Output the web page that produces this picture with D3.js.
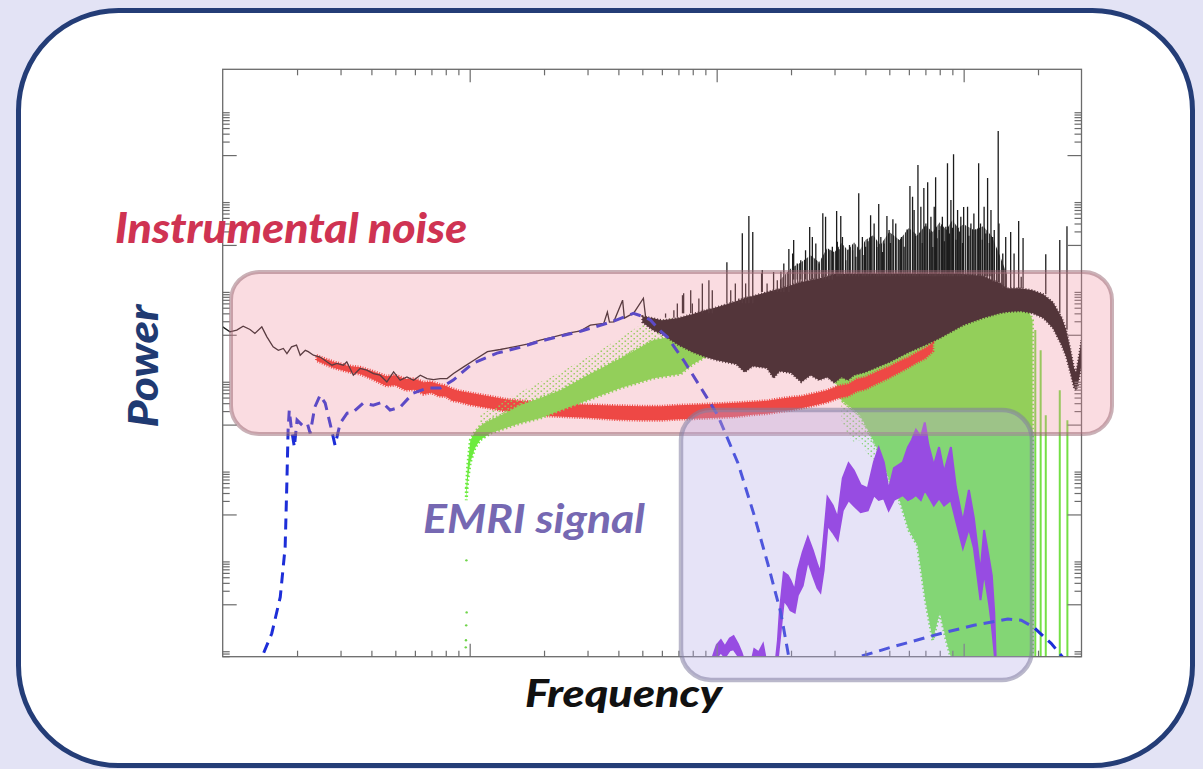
<!DOCTYPE html>
<html>
<head>
<meta charset="utf-8" />
<title>Power spectrum: instrumental noise and EMRI signal</title>
<script src="https://d3js.org/d3.v7.min.js"></script>
<style>
  body { margin: 0; background: #e3e3f5; }
  svg { display: block; }
  .lbl { font-family: Lato, "Open Sans", sans-serif; font-style: italic; font-weight: 700; }
  .heavy { font-weight: 900; }
</style>
</head>
<body>
<script>

// ---- data (frequency in Hz, power in arbitrary units) ----

// black: measured data, smooth part at low frequency [f, P]
var blackLow = [[1.0e-5,1.5e-34],[1.07e-5,1.16e-34],[1.14e-5,1.27e-34],[1.21e-5,1.55e-34],[1.29e-5,1.31e-34],
  [1.35e-5,1.07e-34],[1.44e-5,1.5e-34],[1.51e-5,9.0e-35],[1.60e-5,5.4e-35],[1.68e-5,4.5e-35],[1.76e-5,4.95e-35],
  [1.82e-5,3.8e-35],[1.90e-5,5.4e-35],[1.99e-5,5.9e-35],[2.06e-5,3.5e-35],[2.16e-5,4.5e-35],[2.22e-5,4.2e-35],
  [2.33e-5,3.5e-35],[2.48e-5,3.2e-35],[2.64e-5,2.5e-35],[2.77e-5,2.1e-35],[2.90e-5,2.3e-35],[3.08e-5,2.1e-35],
  [3.18e-5,2.5e-35],[3.38e-5,1.26e-35],[3.60e-5,1.78e-35],[3.83e-5,1.63e-35],[4.08e-5,1.37e-35],[4.34e-5,1.26e-35],
  [4.62e-5,8.9e-36],[4.92e-5,1.49e-35],[5.23e-5,9.7e-36],[5.57e-5,1.15e-35],[5.93e-5,9.7e-36],[6.31e-5,1.26e-35],
  [6.72e-5,1.06e-35],[7.14e-5,1.0e-35],[7.6e-5,1.06e-35],[8.1e-5,1.06e-35],[8.6e-5,1.37e-35],[9.45e-5,1.93e-35],
  [1.04e-4,2.7e-35],[1.18e-4,4.2e-35],[1.33e-4,4.7e-35],[1.51e-4,5.4e-35],[1.71e-4,6.2e-35],[1.93e-4,7.6e-35],
  [2.19e-4,9.0e-35],[2.48e-4,1.07e-34],[2.81e-4,1.22e-34],[3.08e-4,1.64e-34],[3.49e-4,1.78e-34],[3.61e-4,3.2e-34],
  [3.68e-4,1.91e-34],[3.83e-4,1.94e-34],[4.16e-4,5.9e-34],[4.23e-4,2.34e-34],[4.62e-4,3.07e-34],[5.05e-4,6.5e-34],
  [5.15e-4,2.6e-34],[5.57e-4,1.78e-34]];

// black: dense noisy part, lower and upper envelope [f, low, high]
var blackBand = [[5.0e-4,1.9e-34,2.6e-34],[5.5e-4,1.27e-34,2.35e-34],[6.0e-4,1.03e-34,2.1e-34],[7.0e-4,5.9e-35,2.35e-34],
  [8.0e-4,4.1e-35,2.9e-34],[9.0e-4,3.2e-35,3.5e-34],[1.0e-3,2.7e-35,4.1e-34],[1.2e-3,2.2e-35,5.6e-34],
  [1.3e-3,1.47e-35,6.6e-34],[1.4e-3,2.0e-35,7.25e-34],[1.6e-3,1.8e-35,8.9e-34],[1.7e-3,1.08e-35,9.8e-34],
  [1.8e-3,1.55e-35,1.04e-33],[2.0e-3,1.4e-35,1.27e-33],[2.2e-3,8.8e-36,1.5e-33],[2.4e-3,1.26e-35,1.64e-33],
  [2.6e-3,9.7e-36,1.82e-33],[2.8e-3,1.14e-35,2.0e-33],[3.0e-3,8.4e-36,2.24e-33],[3.2e-3,1.14e-35,2.24e-33],
  [3.4e-3,9.7e-36,2.24e-33],[3.6e-3,1.26e-35,2.24e-33],[4.0e-3,1.47e-35,2.24e-33],[5.0e-3,2.45e-35,2.24e-33],
  [6.0e-3,4.1e-35,2.24e-33],[7.0e-3,5.9e-35,2.24e-33],[8.0e-3,8.4e-35,2.24e-33],[9.0e-3,1.2e-34,2.24e-33],
  [1.0e-2,1.64e-34,2.24e-33],[1.2e-2,2.35e-34,2.0e-33],[1.4e-2,3.0e-34,1.41e-33],[1.5e-2,3.2e-34,1.09e-33],
  [1.7e-2,3.35e-34,1.09e-33],[1.9e-2,3.0e-34,9.8e-34],[2.1e-2,2.35e-34,8.0e-34],[2.3e-2,1.4e-34,5.3e-34],
  [2.5e-2,5.6e-35,2.35e-34],[2.6e-2,3.2e-35,1.27e-34],[2.7e-2,1.47e-35,5.0e-35],[2.8e-2,6.5e-36,1.8e-35],
  [2.85e-2,5.8e-36,1.47e-35],[2.9e-2,7.55e-36,2.45e-35],[3.0e-2,2.1e-35,7.6e-35]];

// black: densest part of the spikes just above the band [f, low, high]
var blackCloud = [[1.8e-3,1.04e-33,1.64e-33],[2.0e-3,1.27e-33,3.04e-33],[2.2e-3,1.48e-33,4.1e-33],[2.4e-3,1.64e-33,5.9e-33],
  [2.6e-3,1.82e-33,4.1e-33],[2.8e-3,2.0e-33,8.5e-33],[3.0e-3,2.24e-33,6.9e-33],[3.2e-3,2.24e-33,1.1e-32],
  [3.4e-3,2.24e-33,7.6e-33],[3.6e-3,2.24e-33,1.15e-32],[3.8e-3,2.24e-33,7.6e-33],[4.0e-3,2.24e-33,1.28e-32],
  [4.3e-3,2.24e-33,1.65e-32],[4.6e-3,2.24e-33,1.0e-32],[5.0e-3,2.24e-33,1.93e-32],[5.5e-3,2.24e-33,1.28e-32],
  [6.0e-3,2.24e-33,2.37e-32],[6.5e-3,2.24e-33,1.65e-32],[7.0e-3,2.24e-33,2.76e-32],[7.5e-3,2.24e-33,1.93e-32],
  [8.0e-3,2.24e-33,3.2e-32],[8.5e-3,2.24e-33,2.14e-32],[9.0e-3,2.24e-33,3.57e-32],[9.5e-3,2.24e-33,2.37e-32],
  [1.0e-2,2.24e-33,2.9e-32],[1.1e-2,2.0e-33,2.14e-32],[1.2e-2,1.9e-33,2.62e-32],[1.3e-2,1.41e-33,1.57e-32],
  [1.4e-2,1.3e-33,5.9e-33],[1.5e-2,1.09e-33,2.13e-33]];

// black: spikes above the band [f, low, high]
var spikes = [[6.21e-4,2.4e-34,2.98e-34],[6.71e-4,2.4e-34,3.5e-34],[6.93e-4,2.4e-34,4.98e-34],[7.27e-4,3e-34,7.6e-34],
  [7.35e-4,3e-34,8.4e-34],[7.85e-4,3e-34,9.8e-34],[7.97e-4,3e-34,4.98e-34],[8.47e-4,3e-34,6.4e-34],
  [8.75e-4,3e-34,1.39e-33],[9.3e-4,3e-34,1.64e-33],[9.6e-4,3e-34,9.8e-34],[1.1e-3,5e-34,4.1e-33],
  [1.14e-3,5e-34,9.8e-34],[1.19e-3,5e-34,1.39e-33],[1.23e-3,5e-34,6.4e-34],[1.27e-3,5e-34,1.83e-32],
  [1.31e-3,5e-34,1.39e-33],[1.35e-3,5e-34,4.4e-32],[1.4e-3,5e-34,1.93e-32],[1.52e-3,9e-34,2.35e-33],
  [1.53e-3,9e-34,2.75e-33],[1.6e-3,9e-34,1.39e-33],[1.7e-3,9e-34,2.5e-33],[1.76e-3,9e-34,1.64e-33],
  [1.82e-3,9e-34,2.52e-33],[1.87e-3,9e-34,3.87e-33],[1.96e-3,9e-34,8.1e-33],[2.03e-3,1.7e-33,6.46e-33],
  [2.05e-3,1.7e-33,1.28e-32],[2.12e-3,1.7e-33,3.87e-33],[2.19e-3,1.7e-33,4.58e-33],[2.29e-3,1.7e-33,7.65e-33],
  [2.38e-3,1.7e-33,2.5e-32],[2.44e-3,1.7e-33,1.51e-32],[2.52e-3,1.7e-33,1.08e-32],[2.6e-3,1.7e-33,3.87e-33],
  [2.69e-3,1.7e-33,5.1e-32],[2.76e-3,1.7e-33,4.22e-32],[2.85e-3,1.7e-33,7.65e-33],[2.94e-3,1.7e-33,9.1e-33],
  [3.06e-3,2e-33,5.7e-32],[3.08e-3,2e-33,1.17e-32],[3.13e-3,2e-33,8e-33],[3.18e-3,2e-33,4.4e-32],
  [3.23e-3,2e-33,1.51e-32],[3.33e-3,2e-33,4.58e-33],[3.45e-3,2e-33,1.0e-32],[3.55e-3,2e-33,7.65e-33],
  [3.66e-3,2e-33,5.43e-33],[3.76e-3,2e-33,1.42e-31],[3.89e-3,2e-33,1.51e-32],[3.95e-3,2e-33,6e-33],
  [4.01e-3,2e-33,9.1e-33],[4.1e-3,2e-33,1.2e-32],[4.2e-3,2e-33,4.6e-32],[4.34e-3,2e-33,3.0e-32],
  [4.45e-3,2e-33,9e-33],[4.53e-3,2e-33,8.1e-32],[4.62e-3,2e-33,1.51e-32],[4.7e-3,2e-33,7e-33],
  [4.76e-3,2e-33,1.08e-32],[4.89e-3,2e-33,4.4e-32],[4.99e-3,2e-33,2.14e-32],[5.05e-3,2e-33,1.1e-32],
  [5.17e-3,2e-33,3.75e-32],[5.31e-3,2e-33,3.0e-32],[5.48e-3,2e-33,1.28e-32],[5.6e-3,2e-33,1.5e-32],
  [5.74e-3,2e-33,9.1e-33],[5.9e-3,2e-33,2.2e-32],[6.06e-3,2e-33,2.04e-31],[6.21e-3,2e-33,1.18e-31],
  [6.3e-3,2e-33,5.96e-32],[6.4e-3,2e-33,1.6e-32],[6.53e-3,2e-33,6.0e-31],[6.71e-3,2e-33,7.06e-32],
  [6.8e-3,2e-33,1.1e-32],[6.9e-3,2e-33,1.84e-31],[7.03e-3,2e-33,3.0e-32],[7.15e-3,2e-33,2.5e-31],
  [7.3e-3,2e-33,1.9e-32],[7.37e-3,2e-33,4.22e-32],[7.5e-3,2e-33,9e-33],[7.6e-3,2e-33,7.06e-32],
  [7.7e-3,2e-33,3.2e-31],[7.8e-3,2e-33,1.4e-32],[7.96e-3,2e-33,2.14e-32],[8.1e-3,2e-33,2.6e-32],
  [8.2e-3,2e-33,4.22e-32],[8.35e-3,2e-33,1.2e-32],[8.47e-3,2e-33,2.53e-32],[8.6e-3,2e-33,6.6e-31],
  [8.75e-3,2e-33,1.8e-32],[8.88e-3,2e-33,9.95e-32],[9.0e-3,2e-33,2.4e-32],[9.1e-3,2e-33,1.05e-30],
  [9.3e-3,2e-33,1.3e-32],[9.45e-3,2e-33,5.96e-32],[9.6e-3,2e-33,2.0e-32],[9.74e-3,2e-33,4.22e-32],
  [9.9e-3,2e-33,1.1e-32],[1.0e-2,2e-33,7.0e-32],[1.037e-2,2e-33,7.06e-32],[1.05e-2,2e-33,1.6e-32],
  [1.07e-2,2e-33,3.0e-32],[1.10e-2,2e-33,5.03e-32],[1.12e-2,2e-33,2.2e-32],[1.15e-2,2e-33,6.6e-31],
  [1.17e-2,2e-33,3.0e-32],[1.19e-2,2e-33,1.3e-32],[1.21e-2,2e-33,7.06e-32],[1.23e-2,2e-33,1.8e-32],
  [1.25e-2,2e-33,3.1e-31],[1.27e-2,2e-33,1.1e-32],[1.29e-2,2e-33,5.96e-32],[1.31e-2,1.5e-33,1.5e-32],
  [1.33e-2,1.5e-33,2.14e-32],[1.38e-2,1.5e-33,3.43e-30],[1.39e-2,1.5e-33,3.0e-32],[1.44e-2,1.1e-33,6.46e-33],
  [1.48e-2,1.1e-33,1.51e-32],[1.55e-2,1.1e-33,1.93e-32],[1.6e-2,1.1e-33,6.46e-33],[1.67e-2,1.1e-33,3.4e-32],
  [1.71e-2,1.1e-33,1.95e-33],[1.74e-2,1.1e-33,1.42e-32],[2.15e-2,8e-34,6.2e-33],[2.45e-2,3e-34,1.28e-32],
  [2.62e-2,1.3e-34,2.6e-32]];

// red: instrumental noise [f, low, high]
var noise = [[2.4e-5,2.65e-35,3.43e-35],[2.8e-5,1.85e-35,2.52e-35],[3.2e-5,1.51e-35,2.05e-35],[3.6e-5,1.33e-35,1.9e-35],
  [4.0e-5,1.05e-35,1.59e-35],[4.6e-5,7.2e-36,1.2e-35],[5.0e-5,7.55e-36,1.26e-35],[5.5e-5,5.8e-36,1.03e-35],
  [6.0e-5,6.0e-36,1.05e-35],[6.5e-5,4.75e-36,8.8e-36],[7.0e-5,5.1e-36,9.0e-36],[7.5e-5,4.3e-36,7.95e-36],
  [8.0e-5,4.2e-36,7.35e-36],[8.5e-5,3.4e-36,6.3e-36],[9.0e-5,3.23e-36,5.7e-36],[1.0e-4,2.77e-36,5.1e-36],
  [1.2e-4,2.32e-36,4.3e-36],[1.4e-4,1.99e-36,3.68e-36],[1.6e-4,1.75e-36,3.4e-36],[2.0e-4,1.58e-36,3.07e-36],
  [2.4e-4,1.5e-36,2.92e-36],[3.0e-4,1.42e-36,2.77e-36],[4.0e-4,1.29e-36,2.63e-36],[5.0e-4,1.25e-36,2.57e-36],
  [6.0e-4,1.25e-36,2.57e-36],[7.0e-4,1.32e-36,2.7e-36],[8.0e-4,1.35e-36,2.77e-36],[1.0e-3,1.42e-36,2.92e-36],
  [1.2e-3,1.5e-36,3.07e-36],[1.4e-3,1.66e-36,3.23e-36],[1.6e-3,1.75e-36,3.4e-36],[1.8e-3,1.94e-36,3.78e-36],
  [2.0e-3,2.09e-36,4.08e-36],[2.2e-3,2.32e-36,4.3e-36],[2.5e-3,2.7e-36,5.0e-36],[2.8e-3,3.15e-36,5.8e-36],
  [3.1e-3,3.87e-36,7.2e-36],[3.4e-3,4.3e-36,7.95e-36],[3.7e-3,5.55e-36,1.03e-35],[4.0e-3,6.15e-36,1.14e-35],
  [4.5e-3,8.4e-36,1.55e-35],[5.0e-3,1.11e-35,1.95e-35],[5.5e-3,1.47e-35,2.58e-35],[6.0e-3,1.9e-35,3.17e-35],
  [6.5e-3,2.45e-35,4.1e-35],[7.0e-3,3.01e-35,5.03e-35],[7.5e-3,4.3e-35,6.5e-35]];

// green: galactic foreground, rising part [f, low, high]
var greenLow = [[9.69e-5,2.07e-38,3.8e-38],[9.82e-5,5.8e-38,1.25e-37],[1.006e-4,1.45e-37,4.5e-37],[1.05e-4,2.98e-37,6.8e-37],
  [1.1e-4,4.5e-37,9.2e-37],[1.21e-4,6.4e-37,1.25e-36],[1.39e-4,8.3e-37,1.79e-36],[1.6e-4,1.07e-36,2.7e-36],
  [1.93e-4,1.39e-36,3.9e-36],[2.33e-4,2.1e-36,5.8e-36],[3.0e-4,3.5e-36,1.26e-35],[4.08e-4,6.5e-36,3.0e-35],
  [5.55e-4,1.08e-35,7.6e-35],[7.14e-4,1.33e-35,9.8e-35],[8e-4,2.2e-35,1.2e-34],[9e-4,3.2e-35,1.3e-34]];
// sparse green points above the rising part [f, low, high]
var greenHalo = [[1.1e-4,9.2e-37,1.62e-36],[1.6e-4,2.7e-36,5.3e-36],[2.33e-4,5.8e-36,1.47e-35],
  [3.38e-4,1.6e-35,4.5e-35],[4.92e-4,5.0e-35,1.64e-34],[6.5e-4,9.0e-35,2.35e-34]];
// isolated green points at the start [f, P]
var greenDots = [[9.7e-5,9.5e-40],[9.72e-5,6.6e-41],[9.68e-5,3.4e-41],[9.66e-5,1.58e-41],[9.64e-5,1.1e-41]];
// green: high frequency part reaching the bottom [f, low, high]
var greenHigh = [[3e-3,1.08e-35,1.27e-34],[3.2e-3,3.5e-36,1.64e-34],[3.4e-3,2.7e-36,2.1e-34],[3.6e-3,2.1e-36,2.35e-34],
  [3.8e-3,1.62e-36,2.6e-34],[4e-3,9.7e-37,2.9e-34],[4.3e-3,4.5e-37,3.2e-34],[4.6e-3,2.08e-37,3.5e-34],
  [5e-3,5.8e-38,3.9e-34],[5.5e-3,2.1e-38,4.4e-34],[6e-3,4.45e-39,4.9e-34],[6.5e-3,2.06e-39,5.9e-34],
  [7e-3,1.23e-40,6.5e-34],[7.5e-3,1.58e-41,7.25e-34],[8e-3,6.6e-41,7.6e-34],[8.5e-3,1.58e-41,8.0e-34],
  [9e-3,5e-42,8.5e-34],[1e-2,5e-42,8.9e-34],[1.6e-2,5e-42,5.9e-34],[1.8e-2,5e-42,4.4e-34],[1.9e-2,5e-42,2.1e-34]];
// sparse green points below the dense high frequency part [f, low, high]
var greenSparse = [[3.2e-3,1.25e-36,3.5e-36],[3.4e-3,5.8e-37,2.7e-36],[3.6e-3,4.1e-37,2.1e-36],[3.8e-3,4.5e-37,1.62e-36],
  [4e-3,2.7e-37,9.7e-37],[4.3e-3,1.45e-37,4.5e-37],[4.6e-3,9.6e-38,2.08e-37],[5e-3,3.5e-38,5.8e-38],[5.5e-3,1.6e-38,2.1e-38]];
var greenStreaks = [[1.95e-2,5e-42,1.27e-34],[2.05e-2,5e-42,4.5e-35],[2.15e-2,5e-42,1.62e-36],
  [2.45e-2,5e-42,5.8e-36],[2.63e-2,5e-42,1.25e-36]];

// blue dashed: two model curves [f, P]
var blueA = [[1.42e-5,3.4e-42],[1.44e-5,6.6e-42],[1.58e-5,2.24e-41],[1.71e-5,1.44e-40],[1.79e-5,1.86e-39],
  [1.82e-5,5.75e-38],[1.84e-5,7.6e-37],[1.86e-5,2.1e-36],[1.89e-5,9.7e-37],[1.95e-5,3.16e-37],[2.0e-5,1.26e-36],
  [2.1e-5,9.7e-37],[2.2e-5,1.07e-36],[2.26e-5,6.4e-37],[2.36e-5,2.45e-36],[2.48e-5,4.5e-36],[2.6e-5,3.0e-36],
  [2.72e-5,1.07e-36],[2.85e-5,3.5e-37],[2.99e-5,1.07e-36],[3.19e-5,1.79e-36],[3.37e-5,1.88e-36],[3.7e-5,3.0e-36],
  [4.07e-5,2.7e-36],[4.42e-5,3.16e-36],[4.76e-5,2.1e-36],[5.23e-5,2.45e-36],[5.9e-5,5.0e-36],[6.73e-5,6.5e-36],
  [7.6e-5,6.5e-36],[8.58e-5,9.8e-36],[1.03e-4,2.33e-35],[1.29e-4,3.9e-35],[1.6e-4,5.25e-35],[1.93e-4,7.2e-35],
  [2.33e-4,9.3e-35],[2.81e-4,1.2e-34],[3.38e-4,1.62e-34],[3.9e-4,2.1e-34],[4.6e-4,3.0e-34],[5.15e-4,2.45e-34],
  [5.4e-4,2.1e-34],[5.93e-4,1.2e-34],[6.32e-4,8.9e-35],[7.35e-4,2.7e-35],[8.6e-4,6.8e-36],[1.01e-3,1.62e-36],
  [1.22e-3,1.38e-37],[1.41e-3,1.07e-38],[1.61e-3,8.1e-40],[1.82e-3,6.3e-41],[1.96e-3,6.6e-42],[1.99e-3,3.4e-42]];
var blueB = [[3.59e-3,3.4e-42],[3.72e-3,6.6e-42],[5.07e-3,1.1e-41],[8.08e-3,2.24e-41],[1.1e-2,3.4e-41],
  [1.51e-2,4.7e-41],[1.71e-2,4.4e-41],[1.92e-2,3.1e-41],[2.26e-2,1.35e-41],[2.52e-2,6.6e-42],[2.57e-2,3.4e-42]];

// purple: EMRI signal [f, low, high]
var emri = [[9.63e-4,5e-42,6.6e-42],[1.0e-3,6.6e-42,1.23e-41],[1.04e-3,8.5e-42,1.58e-41],[1.08e-3,6.6e-42,1.15e-41],
  [1.13e-3,9.5e-42,1.74e-41],[1.17e-3,1.0e-41,1.95e-41],[1.22e-3,7.2e-42,1.29e-41],[1.26e-3,5e-42,8.5e-42],
  [1.3e-3,4.5e-42,5e-42],[1.38e-3,4.5e-42,5e-42],[1.42e-3,6.6e-42,1.0e-41],[1.48e-3,5e-42,8.5e-42],
  [1.54e-3,7.2e-42,1.29e-41],[1.59e-3,4e-42,5e-42],[1.73e-3,4e-42,4.7e-42],[1.77e-3,6.6e-42,1.58e-41],
  [1.8e-3,1.58e-41,6.6e-41],[1.87e-3,1.23e-40,5.1e-40],[1.94e-3,9.5e-41,4.4e-40],[1.99e-3,7.4e-41,3.4e-40],
  [2.07e-3,6.6e-41,2.04e-40],[2.13e-3,1.58e-40,5.7e-40],[2.23e-3,2.6e-40,1.44e-39],[2.34e-3,9.5e-40,3.1e-39],
  [2.45e-3,4.4e-40,1.58e-39],[2.56e-3,2.3e-40,7.4e-40],[2.63e-3,1.86e-40,5.1e-40],[2.71e-3,5.7e-40,2.7e-39],
  [2.81e-3,5.75e-39,2.4e-38],[2.95e-3,4.0e-39,1.58e-38],[3.09e-3,2.7e-39,8.3e-39],[3.24e-3,1.23e-38,6.4e-38],
  [3.42e-3,2.1e-38,1.38e-37],[3.59e-3,1.58e-38,9.5e-38],[3.83e-3,1.12e-38,4.5e-38],[4.09e-3,1.23e-38,3.8e-38],
  [4.33e-3,2.7e-38,1.45e-37],[4.53e-3,2.1e-38,3.0e-37],[4.75e-3,2.3e-38,1.45e-37],[4.97e-3,1.23e-38,3.5e-38],
  [5.22e-3,2.1e-38,1.07e-37],[5.67e-3,2.7e-38,1.45e-37],[5.95e-3,2.1e-38,3.16e-37],[6.17e-3,2.3e-38,4.5e-37],
  [6.41e-3,2.7e-38,7.6e-37],[6.71e-3,2.1e-38,5.25e-37],[6.96e-3,3.5e-38,1.12e-36],[7.2e-3,2.57e-38,3.5e-37],
  [7.57e-3,1.58e-38,1.23e-37],[7.95e-3,2.3e-38,3.16e-37],[8.33e-3,1.58e-38,8.7e-38],[8.88e-3,2.1e-38,3.16e-37],
  [9.3e-3,7.4e-39,4.07e-38],[9.93e-3,1.78e-39,6.8e-39],[1.05e-2,4.9e-39,3.5e-38],[1.1e-2,1.78e-39,8.3e-39],
  [1.17e-2,1.23e-40,5.1e-40],[1.21e-2,5.1e-40,4.5e-39],[1.27e-2,9.5e-41,9.5e-40],[1.3e-2,3.4e-41,4.4e-40],
  [1.33e-2,9.5e-42,6.6e-41],[1.35e-2,4e-42,5e-42]];

// axis ticks (no labels in the picture)
var xMajor = [1e-4, 1e-3, 1e-2];
var yMajorExp = [-40, -38, -36, -34, -32, -30];

// ---- drawing ----
var W = 1203, H = 769;
var svg = d3.select("body").append("svg").attr("width", W).attr("height", H);

var defs = svg.append("defs");
// vertical hatching used for the dense spike region
defs.append("pattern").attr("id", "hatch").attr("patternUnits", "userSpaceOnUse")
  .attr("width", 2.4).attr("height", 10)
  .append("rect").attr("width", 1.4).attr("height", 10).attr("fill", "#1a1a1a");
// scattered dots for the sparse green points
var dots = defs.append("pattern").attr("id", "gdots").attr("patternUnits", "userSpaceOnUse")
  .attr("width", 6).attr("height", 5);
dots.append("rect").attr("x", 0.5).attr("y", 0.5).attr("width", 1.6).attr("height", 1.4).attr("fill", "#6ee840");
dots.append("rect").attr("x", 3.5).attr("y", 3).attr("width", 1.4).attr("height", 1.4).attr("fill", "#6ee840");

// slide frame
svg.append("rect").attr("width", W).attr("height", H).attr("fill", "#e3e3f5");
svg.append("rect").attr("x", 18.5).attr("y", 10.5).attr("width", 1174).attr("height", 755)
  .attr("rx", 100).attr("fill", "#ffffff").attr("stroke", "#243d77").attr("stroke-width", 5);

var pLeft = 222.7, pRight = 1081.5, pTop = 69.3, pBottom = 656.7;
var x = d3.scaleLog().domain([1e-5, 3e-2]).range([pLeft, pRight]);
var y = d3.scaleLog().domain([Math.pow(10, -41.167), Math.pow(10, -28.09)]).range([pBottom, pTop]);

svg.append("clipPath").attr("id", "plotclip").append("rect")
  .attr("x", pLeft).attr("y", pTop).attr("width", pRight - pLeft).attr("height", pBottom - pTop);
var plot = svg.append("g").attr("clip-path", "url(#plotclip)");

var band = d3.area().x(function(d){ return x(d[0]); })
  .y0(function(d){ return y(d[1]); }).y1(function(d){ return y(d[2]); });
var line = d3.line().x(function(d){ return x(d[0]); }).y(function(d){ return y(d[1]); });

function vlines(cls, data, color, width) {
  plot.selectAll("line." + cls).data(data).enter().append("line").attr("class", cls)
    .attr("x1", function(d){ return x(d[0]); }).attr("x2", function(d){ return x(d[0]); })
    .attr("y1", function(d){ return y(d[1]); }).attr("y2", function(d){ return y(d[2]); })
    .attr("stroke", color).attr("stroke-width", width);
}

// green, high frequency part (under the red)
plot.append("path").datum(greenSparse).attr("d", band).attr("fill", "url(#gdots)");
plot.append("path").datum(greenHigh).attr("d", band)
  .attr("fill", "#6cec3e").attr("stroke", "#6cec3e").attr("stroke-width", 3).attr("stroke-dasharray", "1.5,2.5");
vlines("gstreak", greenStreaks, "#74e045", 2);

// red, instrumental noise
plot.append("path").datum(noise).attr("d", band)
  .attr("fill", "#ee2c20").attr("stroke", "#ee2c20").attr("stroke-width", 3).attr("stroke-dasharray", "1,1.5");

// green, rising part
plot.append("path").datum(greenHalo).attr("d", band).attr("fill", "url(#gdots)");
plot.append("path").datum(greenLow).attr("d", band)
  .attr("fill", "#6cec3e").attr("stroke", "#6cec3e").attr("stroke-width", 3).attr("stroke-dasharray", "1.5,2.5");
plot.selectAll("circle.gdot").data(greenDots).enter().append("circle").attr("class", "gdot")
  .attr("cx", function(d){ return x(d[0]); }).attr("cy", function(d){ return y(d[1]); })
  .attr("r", 1.2).attr("fill", "#6fd44a");

// black, data
plot.append("path").datum(blackLow).attr("d", line)
  .attr("fill", "none").attr("stroke", "#1a1a1a").attr("stroke-width", 1.3);
plot.append("path").datum(blackCloud).attr("d", band).attr("fill", "url(#hatch)");
plot.append("path").datum(blackBand).attr("d", band)
  .attr("fill", "#111111").attr("stroke", "#111111").attr("stroke-width", 2).attr("stroke-dasharray", "1,2");
vlines("spike", spikes, "#1c1c1c", 1.3);

// purple, EMRI signal
plot.append("path").datum(emri).attr("d", band)
  .attr("fill", "#8a1fe0").attr("stroke", "#8a1fe0").attr("stroke-width", 2);

// blue dashed curves
[blueA, blueB].forEach(function(s){
  plot.append("path").datum(s).attr("d", line)
    .attr("fill", "none").attr("stroke", "#1d2ed8").attr("stroke-width", 3)
    .attr("stroke-dasharray", "11,7");
});

// frame and ticks
svg.append("rect").attr("x", pLeft).attr("y", pTop).attr("width", pRight - pLeft).attr("height", pBottom - pTop)
  .attr("fill", "none").attr("stroke", "#6b6b6b").attr("stroke-width", 1.3);

var xMinor = [];
[-5, -4, -3, -2].forEach(function(e){
  for (var m = 2; m <= 9; m++) { var v = m * Math.pow(10, e); if (v < 3e-2) xMinor.push(v); }
});
var yMajor = yMajorExp.map(function(e){ return Math.pow(10, e); });
var yMinor = [];
[-42].concat(yMajorExp).forEach(function(e){
  for (var m = 2; m <= 9; m++) {
    var v = m * Math.pow(10, e);
    if (v > y.domain()[0] && v < y.domain()[1]) yMinor.push(v);
  }
});

function ticks(axisFn, scale, values, size, tx, ty) {
  svg.append("g").attr("transform", "translate(" + tx + "," + ty + ")")
    .call(axisFn(scale).tickValues(values).tickSize(size).tickFormat(""))
    .call(function(g){ g.select(".domain").remove(); })
    .selectAll("line").attr("stroke", "#6b6b6b").attr("stroke-width", 1.2);
}
ticks(d3.axisBottom, x, xMajor, -13, 0, pBottom);
ticks(d3.axisBottom, x, xMinor, -6, 0, pBottom);
ticks(d3.axisTop, x, xMajor, -13, 0, pTop);
ticks(d3.axisTop, x, xMinor, -6, 0, pTop);
ticks(d3.axisLeft, y, yMajor, -14, pLeft, 0);
ticks(d3.axisLeft, y, yMinor, -7, pLeft, 0);
ticks(d3.axisRight, y, yMajor, -14, pRight, 0);
ticks(d3.axisRight, y, yMinor, -7, pRight, 0);

// highlight boxes
svg.append("rect").attr("x", 231).attr("y", 272).attr("width", 881).attr("height", 162).attr("rx", 28)
  .attr("fill", "rgba(240,140,155,0.3)").attr("stroke", "rgba(150,100,112,0.5)").attr("stroke-width", 4);
svg.append("rect").attr("x", 681).attr("y", 410).attr("width", 351).attr("height", 270).attr("rx", 30)
  .attr("fill", "rgba(180,170,230,0.33)").attr("stroke", "rgba(130,125,160,0.55)").attr("stroke-width", 4.5);

// labels
svg.append("text").attr("class", "lbl heavy").attr("x", 115).attr("y", 243)
  .attr("font-size", 42).attr("fill", "#cf3352")
  .attr("textLength", 352).attr("lengthAdjust", "spacingAndGlyphs").text("Instrumental noise");
svg.append("text").attr("class", "lbl").attr("x", 423).attr("y", 533)
  .attr("font-size", 41).attr("fill", "#7668b2")
  .attr("textLength", 222).attr("lengthAdjust", "spacingAndGlyphs").text("EMRI signal");
svg.append("text").attr("class", "lbl heavy").attr("transform", "translate(158,366) rotate(-90)")
  .attr("text-anchor", "middle").attr("font-size", 41).attr("fill", "#1f3a72")
  .attr("textLength", 123).attr("lengthAdjust", "spacingAndGlyphs").text("Power");
svg.append("text").attr("class", "lbl heavy").attr("x", 525).attr("y", 707)
  .attr("font-size", 38).attr("fill", "#111111")
  .attr("textLength", 197).attr("lengthAdjust", "spacingAndGlyphs").text("Frequency");

</script>
</body>
</html>
